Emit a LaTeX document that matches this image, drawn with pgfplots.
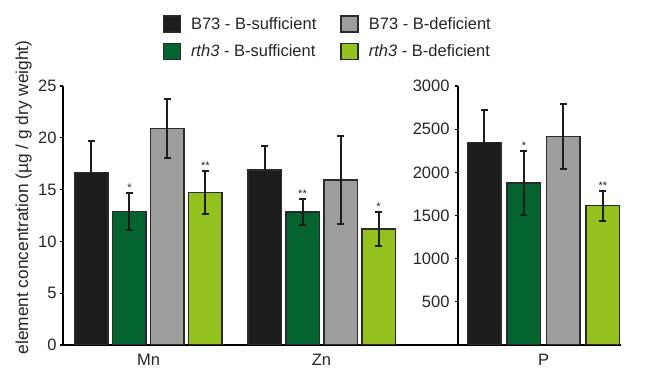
\documentclass[border=0pt]{standalone}
\usepackage{pgfplots}
\pgfplotsset{compat=1.18}
\usepackage{fontspec}
\setmainfont{Liberation Sans}
\definecolor{cblack}{HTML}{1D1D1B}
\definecolor{cdgreen}{HTML}{03642F}
\definecolor{cgray}{HTML}{9D9D9C}
\definecolor{clgreen}{HTML}{95C11F}
\definecolor{coutl}{HTML}{2B2B2B}
\definecolor{ctext}{HTML}{262626}
\newcommand\fs{\fontsize{16.5bp}{19.8bp}\selectfont}
\newcommand\fsl{\fontsize{17.3bp}{20bp}\selectfont}
\newcommand\fst{\fontsize{11bp}{13bp}\selectfont}
\pgfplotsset{
  mybars/.style={
    ybar, bar width=33.5bp, scale only axis, height=259bp,
    axis lines*=left,
    axis line style={line width=2bp, black},
    tick align=outside, major tick length=3bp,
    ytick style={line width=1.2bp, black},
    xtick style={draw=none},
    tick label style={font=\fs, text=ctext},
    /pgf/number format/assume math mode=true,
    /pgf/number format/set thousands separator={},
    enlarge x limits=false,
    every axis plot/.append style={draw=coutl, line width=1.5bp},
    error bars/y dir=both, error bars/y explicit,
    error bars/error bar style={line width=2bp, draw=cblack},
    error bars/error mark options={line width=2bp, draw=cblack, mark size=3.5bp, rotate=90},
  },
}
\begin{document}
\begin{tikzpicture}
\useasboundingbox (0,0) rectangle (651bp,370bp);
% left axis: Mn, Zn
\begin{axis}[mybars,
  at={(63bp,25bp)}, anchor=south west,
  width=395bp,
  xmin=-0.4942, xmax=1.789,
  ymin=0, ymax=25, ytick={0,5,...,25},
  xtick={0,1}, xticklabels={Mn,Zn},
  xticklabel style={yshift=-5bp, inner sep=1bp},
  ylabel={element concentration (µg / g dry weight)},
  ylabel style={font=\fsl, text=ctext, at={(axis description cs:-0.0886,0.5695)}, anchor=base, rotate=0},
  legend columns=2, transpose legend,
  legend style={at={(rel axis cs:0.2519,1.274)}, anchor=north west,
    draw=none, fill=none, inner sep=0pt, outer sep=0pt,
    font=\fs, text=ctext, row sep=10bp,
    nodes={inner sep=2bp},
    /tikz/every odd column/.append style={column sep=8bp},
    /tikz/every even column/.append style={column sep=22bp}},
  legend cell align=left,
  legend image code/.code={\draw[#1, draw=coutl, line width=1.5bp] (0bp,-8bp) rectangle (17bp,8bp);},
]
\addplot[fill=cblack, bar shift=-57bp] coordinates {(0,16.67) +- (0,3.05) (1,16.9) +- (0,2.3)};
\addplot[fill=cdgreen, bar shift=-19bp] coordinates {(0,12.9) +- (0,1.8) (1,12.82) +- (0,1.24)};
\addplot[fill=cgray, bar shift=19bp] coordinates {(0,20.9) +- (0,2.83) (1,15.93) +- (0,4.27)};
\addplot[fill=clgreen, bar shift=57bp] coordinates {(0,14.74) +- (0,2.1) (1,11.2) +- (0,1.65)};
\legend{B73 - B-sufficient, \textit{rth3} - B-sufficient, B73 - B-deficient, \textit{rth3} - B-deficient}
\node[font=\fst, text=ctext, anchor=base, yshift=1.5bp, xshift=-19bp] at (axis cs:0,14.7) {*};
\node[font=\fst, text=ctext, anchor=base, yshift=1.5bp, xshift=57bp] at (axis cs:0,16.84) {**};
\node[font=\fst, text=ctext, anchor=base, yshift=1.5bp, xshift=-19bp] at (axis cs:1,14.06) {**};
\node[font=\fst, text=ctext, anchor=base, yshift=1.5bp, xshift=57bp] at (axis cs:1,12.85) {*};
\end{axis}
% right axis: P
\begin{axis}[mybars,
  at={(458bp,25bp)}, anchor=south west,
  width=163bp,
  xmin=-0.526, xmax=0.474,
  ymin=0, ymax=3000, ytick={500,1000,...,3000},
  xtick={0}, xticklabels={P},
  xticklabel style={yshift=-5bp, inner sep=1bp},
  yticklabel style={xshift=-2bp},
]
\addplot[fill=cblack, bar shift=-59.25bp] coordinates {(0,2348) +- (0,374)};
\addplot[fill=cdgreen, bar shift=-19.75bp] coordinates {(0,1874) +- (0,372)};
\addplot[fill=cgray, bar shift=19.75bp] coordinates {(0,2416) +- (0,375)};
\addplot[fill=clgreen, bar shift=59.25bp] coordinates {(0,1614) +- (0,174)};
\node[font=\fst, text=ctext, anchor=base, yshift=1.5bp, xshift=-19.75bp] at (axis cs:0,2246) {*};
\node[font=\fst, text=ctext, anchor=base, yshift=1.5bp, xshift=59.25bp] at (axis cs:0,1788) {**};
\end{axis}
\end{tikzpicture}
\end{document}
